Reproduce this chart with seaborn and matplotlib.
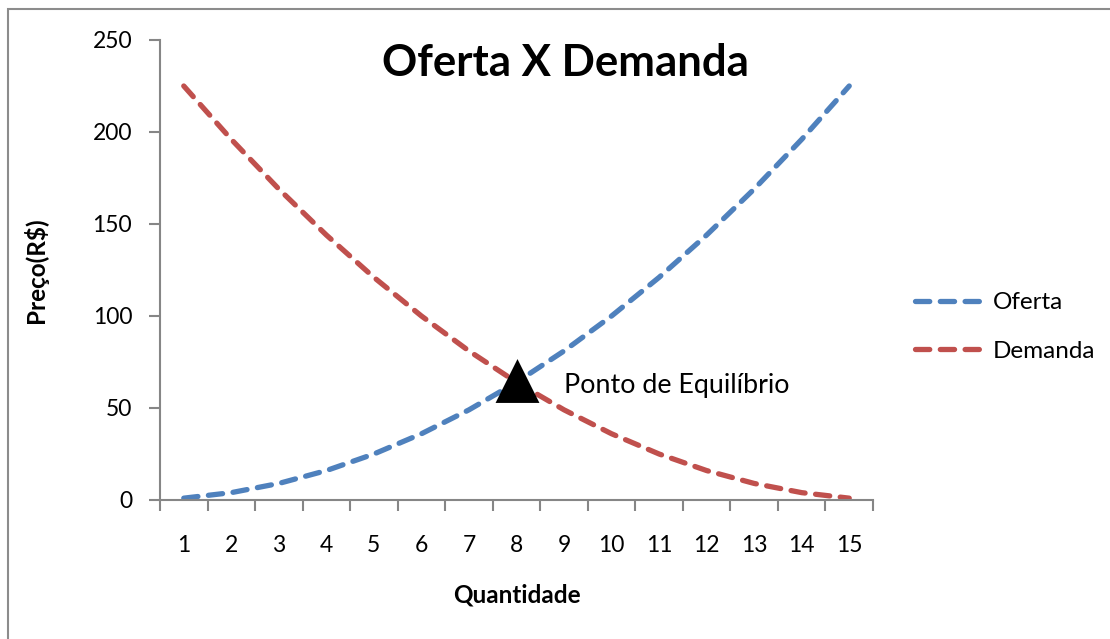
import matplotlib
matplotlib.use("Agg")
import matplotlib.pyplot as plt
import seaborn as sns
import pandas as pd
from matplotlib.patches import Rectangle
from matplotlib.lines import Line2D

quantidade = [1, 2, 3, 4, 5, 6, 7, 8, 9, 10, 11, 12, 13, 14, 15]
oferta = [1, 4, 9, 16, 25, 36, 49, 64, 81, 100, 121, 144, 169, 196, 225]
demanda = [225, 196, 169, 144, 121, 100, 81, 64, 49, 36, 25, 16, 9, 4, 1]
equilibrio_q = 8
equilibrio_p = 64
y_ticks = [0, 50, 100, 150, 200, 250]

sns.set_theme(style="white")
plt.rcParams["font.family"] = ["Lato", "DejaVu Sans"]
plt.rcParams["text.color"] = "black"
plt.rcParams["axes.labelcolor"] = "black"
plt.rcParams["xtick.labelcolor"] = "black"
plt.rcParams["ytick.labelcolor"] = "black"

df = pd.DataFrame({
    "Quantidade": quantidade * 2,
    "Preço": oferta + demanda,
    "Série": ["Oferta"] * len(quantidade) + ["Demanda"] * len(quantidade),
})

fig = plt.figure(figsize=(11.1, 6.39), dpi=100)
ax = fig.add_axes([160 / 1110, 1 - 500 / 639, (873 - 160) / 1110, (500 - 40) / 639])

# outer chart border
fig.patches.append(Rectangle((8 / 1110, -0.1), 1.2, (639 - 9) / 639 + 0.1,
                             transform=fig.transFigure, fill=False,
                             edgecolor="#8c8c8c", linewidth=1.5, zorder=0))

LW = 3.8
DASH = (2.7, 2.0)
palette = {"Oferta": "#4F81BD", "Demanda": "#C0504D"}
sns.lineplot(data=df, x="Quantidade", y="Preço", hue="Série", palette=palette,
             ax=ax, linewidth=LW, legend=False, sort=False)
for line in ax.get_lines():
    line.set_dashes(DASH)
    line.set_dash_capstyle("round")

ax.plot([equilibrio_q], [equilibrio_p], marker="^", markersize=26, color="black",
        markeredgecolor="black", markeredgewidth=3.5, linestyle="none", zorder=5)
ax.get_lines()[-1].set_solid_joinstyle("round")
ax.text(equilibrio_q + 1.0, equilibrio_p - 1.5, "Ponto de Equilíbrio", fontsize=19.3,
        ha="left", va="center", color="black")

ax.set_xlim(0.5, 15.5)
ax.set_ylim(0, 250)
ax.set_yticks(y_ticks)
ax.set_xticks(quantidade)
ax.set_xticks([q - 0.5 for q in quantidade] + [quantidade[-1] + 0.5], minor=True)
ax.tick_params(axis="x", which="major", length=0, pad=25, labelsize=16.5, labelcolor="black")
ax.tick_params(axis="x", which="minor", length=8, width=1.5, color="#868686", direction="out", bottom=True)
ax.tick_params(axis="y", which="major", length=8, width=1.5, color="#868686", direction="out",
               pad=12, labelsize=16.5, left=True, labelcolor="black")

for s in ["top", "right"]:
    ax.spines[s].set_visible(False)
for s in ["left", "bottom"]:
    ax.spines[s].set_color("#868686")
    ax.spines[s].set_linewidth(1.5)

ax.set_xlabel("Quantidade", fontsize=17.5, fontweight="bold", labelpad=20, color="black")
ax.set_ylabel("Preço(R$)", fontsize=17.5, fontweight="bold", labelpad=32, color="black")

fig.text(565 / 1110, 1 - 63 / 639, "Oferta X Demanda", fontsize=31.5, fontweight="bold",
         ha="center", va="center", color="black")

handles = [Line2D([], [], color=palette[k], linewidth=LW, dashes=DASH,
                  dash_capstyle="round") for k in ["Oferta", "Demanda"]]
leg = fig.legend(handles, ["Oferta", "Demanda"], loc="center left",
                 bbox_to_anchor=(915 / 1110, 1 - 327 / 639), frameon=False,
                 fontsize=17.5, handlelength=2.9, handletextpad=0.3, labelspacing=1.12,
                 borderpad=0, borderaxespad=0)
for t in leg.get_texts():
    t.set_color("black")

fig.savefig("out.png", dpi=100, facecolor="white")
